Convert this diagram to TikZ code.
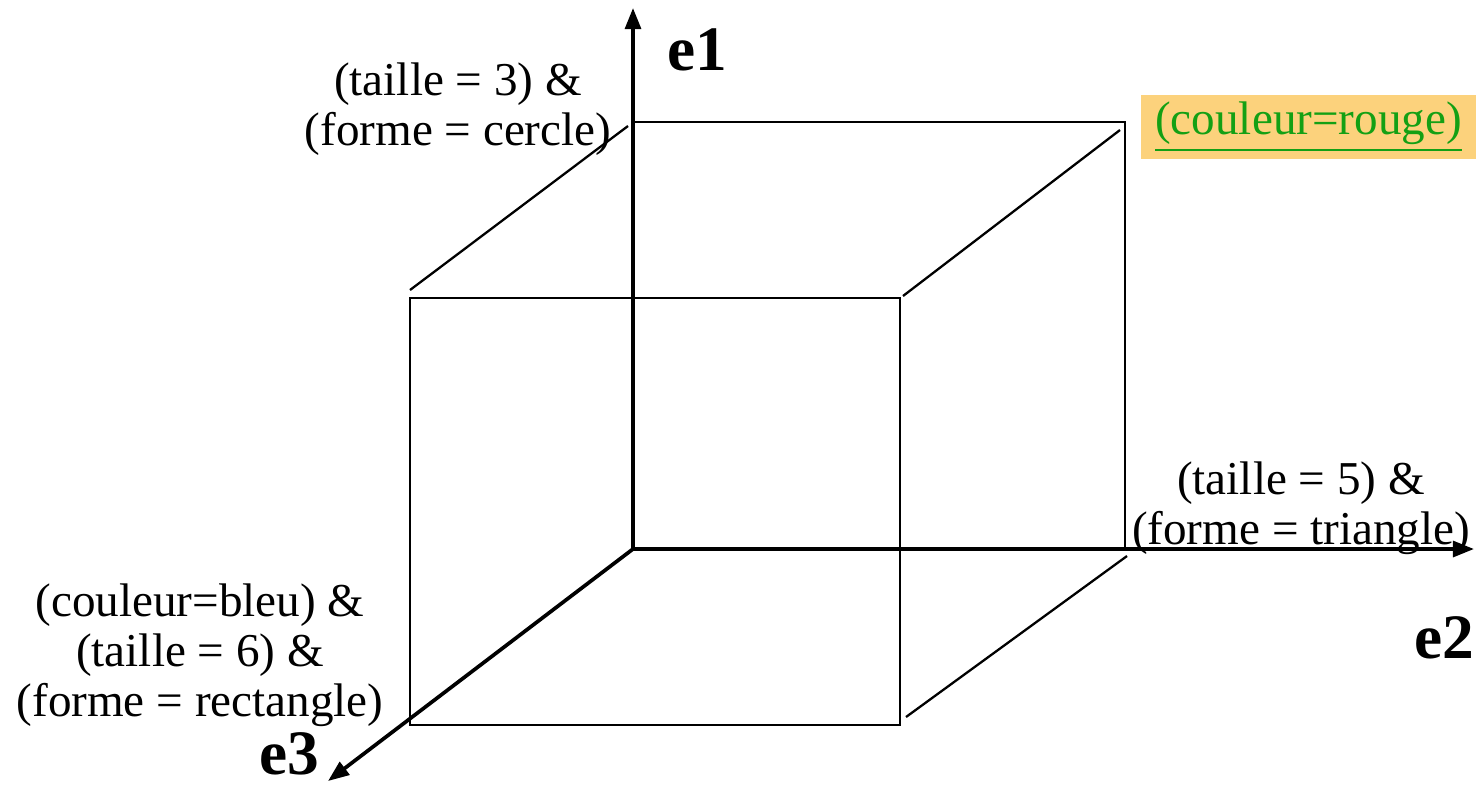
\documentclass[tikz,border=0pt]{standalone}
\usepackage{fontspec}
\setmainfont{Liberation Serif}
\usetikzlibrary{arrows.meta}
\definecolor{rougegreen}{HTML}{14A014}
\definecolor{rougebg}{HTML}{FCD27C}

\begin{document}
\begin{tikzpicture}[x=0.01cm,y=-0.01cm,
  edge/.style={line width=0.65pt},
  axis/.style={line width=1.05pt,-{Triangle[length=6pt,width=4.5pt]}},
  lbl/.style={align=center,font=\fontsize{13.4}{14.2}\selectfont,inner sep=0pt},
  axlbl/.style={font=\fontsize{18}{18}\bfseries\selectfont,inner sep=0pt}]
  \useasboundingbox (0,0) rectangle (1476,784);
  % corners of the cube
  \coordinate (o) at (633,549);
  \coordinate (bt) at (1125,122);
  \coordinate (bl) at (633,122);
  \coordinate (br) at (1125,549);
  \coordinate (fa) at (410,298);
  \coordinate (fb) at (900,725);
  % axis ends
  \coordinate (e1end) at (633,8);
  \coordinate (e2end) at (1474,549);
  \coordinate (e3end) at (328,781);
  % back face
  \draw[edge] (bl) -- (bt) -- (br);
  % front face
  \draw[edge] (fa) rectangle (fb);
  % receding edges, left a little short of the corners
  \draw[edge] (410,290) -- (628,126);
  \draw[edge] (903,296) -- (1120,130);
  \draw[edge] (906,717) -- (1127,556);
  % axes
  \draw[axis] (o) -- (e1end);
  \draw[axis] (o) -- (e2end);
  \draw[axis] (o) -- (e3end);
  \node[axlbl] (e1) at (697,50) {e1};
  \node[axlbl] (e2) at (1444,638) {e2};
  \node[axlbl] (e3) at (289,754) {e3};
  % labels
  \node[lbl] (cercle) at (458,109) {(taille = 3) \&\\(forme = cercle)};
  \node[lbl] (triangle) at (1301,508) {(taille = 5) \&\\(forme = triangle)};
  \node[lbl] (rectangle) at (200,655) {(couleur=bleu) \&\\(taille = 6) \&\\(forme = rectangle)};
  \node[lbl,fill=rougebg,text=rougegreen,minimum width=3.35cm,minimum height=0.64cm]
    (rouge) at (1308.5,127) {\underline{(couleur=rouge)}};
\end{tikzpicture}
\end{document}
